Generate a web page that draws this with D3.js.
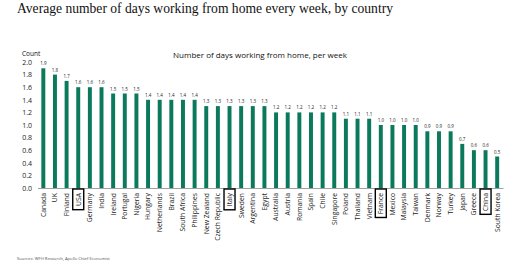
<!DOCTYPE html>
<html>
<head>
<meta charset="utf-8">
<script src="https://cdn.jsdelivr.net/npm/d3@7"></script>
<style>
  body { margin: 0; background: #fff; }
  svg { display: block; }
</style>
</head>
<body>
<svg id="chart" width="520" height="272"></svg>
<script>
// countries in the order shown, left to right
const countries = ["Canada", "UK", "Finland", "USA", "Germany", "India", "Ireland", "Portugal", "Nigeria",
  "Hungary", "Netherlands", "Brazil", "South Africa", "Philippines", "New Zealand", "Czech Republic",
  "Italy", "Sweden", "Argentina", "Egypt", "Australia", "Austria", "Romania", "Spain", "Chile",
  "Singapore", "Poland", "Thailand", "Vietnam", "France", "Mexico", "Malaysia", "Taiwan", "Denmark",
  "Norway", "Turkey", "Japan", "Greece", "China", "South Korea"];
// average days per week working from home
const days = [1.9, 1.8, 1.7, 1.6, 1.6, 1.6, 1.5, 1.5, 1.5,
  1.4, 1.4, 1.4, 1.4, 1.4, 1.3, 1.3,
  1.3, 1.3, 1.3, 1.3, 1.2, 1.2, 1.2, 1.2, 1.2,
  1.2, 1.1, 1.1, 1.1, 1.0, 1.0, 1.0, 1.0, 0.9,
  0.9, 0.9, 0.7, 0.6, 0.6, 0.5];
// countries with a box round the label
const boxed = ["USA", "Italy", "France", "China"];
const yTicks = [0, 0.2, 0.4, 0.6, 0.8, 1.0, 1.2, 1.4, 1.6, 1.8, 2.0];

const svg = d3.select("#chart");
const green = "#0b7a5c";

const x = d3.scaleBand().domain(countries).range([37.5, 503]).paddingInner(0.66).paddingOuter(0.33);
const y = d3.scaleLinear().domain([0, 2]).range([188, 62]);

// title (narrow serif in the original, squeeze to its width)
svg.append("text")
  .attr("x", 17).attr("y", 13)
  .attr("font-family", "Liberation Serif, serif")
  .attr("font-size", 15)
  .attr("fill", "#111")
  .attr("textLength", 376)
  .attr("lengthAdjust", "spacingAndGlyphs")
  .text("Average number of  days working from home every week, by country");

// chart subtitle
svg.append("text")
  .attr("x", 260).attr("y", 58)
  .attr("text-anchor", "middle")
  .attr("font-family", "Open Sans, sans-serif")
  .attr("font-size", 8)
  .attr("fill", "#111")
  .text("Number of days working from home, per week");

svg.append("text")
  .attr("x", 22).attr("y", 56)
  .attr("font-family", "Open Sans, sans-serif")
  .attr("font-size", 6.5)
  .attr("fill", "#111")
  .text("Count");

// y axis labels, no line
const yAxis = svg.append("g")
  .attr("transform", "translate(34,0)")
  .call(d3.axisLeft(y).tickValues(yTicks).tickFormat(d3.format(".1f")).tickSize(0).tickPadding(2));
yAxis.select(".domain").remove();
yAxis.selectAll("text")
  .attr("font-family", "Open Sans, sans-serif")
  .attr("font-size", 7)
  .attr("fill", "#222");

// bars
svg.append("g").selectAll("rect")
  .data(countries)
  .join("rect")
  .attr("x", (d) => x(d))
  .attr("y", (d, i) => y(days[i]))
  .attr("width", x.bandwidth())
  .attr("height", (d, i) => y(0) - y(days[i]))
  .attr("fill", green);

// value labels above bars
svg.append("g").selectAll("text")
  .data(countries)
  .join("text")
  .attr("x", (d) => x(d) + x.bandwidth() / 2)
  .attr("y", (d, i) => y(days[i]) - 3)
  .attr("text-anchor", "middle")
  .attr("font-family", "Open Sans, sans-serif")
  .attr("font-size", 4.5)
  .attr("fill", "#222")
  .text((d, i) => d3.format(".1f")(days[i]));

// x axis
const xAxis = svg.append("g")
  .attr("transform", "translate(0,188)")
  .call(d3.axisBottom(x).tickSize(0).tickPadding(0));
xAxis.select(".domain").attr("stroke", "#888").attr("stroke-width", 0.8);
xAxis.selectAll("text")
  .attr("font-family", "Open Sans, sans-serif")
  .attr("font-size", 6.8)
  .attr("fill", "#222")
  .attr("text-anchor", "end")
  .attr("dy", "0.35em")
  .attr("transform", "translate(0,5) rotate(-90)");

// boxes round the highlighted countries
xAxis.selectAll(".tick").each(function (d) {
  if (!boxed.includes(d)) return;
  const t = d3.select(this).select("text").node().getBBox();
  // bbox is in the rotated frame: width runs downward
  d3.select(this).insert("rect", "text")
    .attr("x", -5.5)
    .attr("y", 1)
    .attr("width", 11)
    .attr("height", t.width + 7)
    .attr("fill", "none")
    .attr("stroke", "#000")
    .attr("stroke-width", 1.4);
});

// source note
svg.append("text")
  .attr("x", 17).attr("y", 260)
  .attr("font-family", "Open Sans, sans-serif")
  .attr("font-size", 4.2)
  .attr("fill", "#555")
  .text("Sources: WFH Research, Apollo Chief Economist");
</script>
</body>
</html>
